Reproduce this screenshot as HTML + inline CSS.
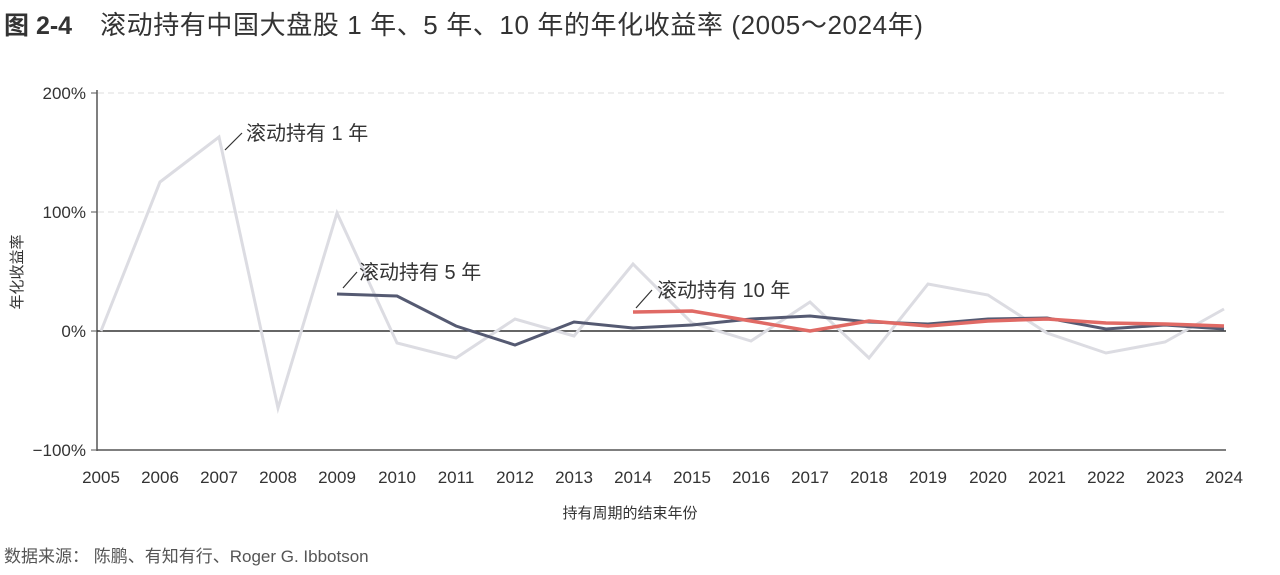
<!DOCTYPE html>
<html><head><meta charset="utf-8"><style>
body{margin:0;width:1280px;height:570px;background:#fff;overflow:hidden;font-family:"Liberation Sans","Noto Sans CJK SC",sans-serif;}
</style></head><body>
<svg width="1280" height="570" xmlns="http://www.w3.org/2000/svg" style="font-family:'Liberation Sans','Noto Sans CJK SC',sans-serif">
<text x="4" y="34" font-size="25" fill="#333" font-weight="bold">图 2-4</text>
<text x="100" y="34" font-size="26" fill="#333" letter-spacing="0.6">滚动持有中国大盘股 1 年、5 年、10 年的年化收益率 (2005～2024年)</text>
<g stroke="#ddd" stroke-dasharray="6,4" stroke-width="1">
<line x1="98" y1="93" x2="1226" y2="93"/><line x1="98" y1="212" x2="1226" y2="212"/>
</g>
<line x1="97" y1="90" x2="97" y2="451" stroke="#555" stroke-width="1.5"/>
<line x1="97" y1="450" x2="1226" y2="450" stroke="#555" stroke-width="1.5"/>
<line x1="97" y1="331" x2="1226" y2="331" stroke="#333" stroke-width="1.5"/>
<g stroke="#555"><line x1="91" y1="93" x2="97" y2="93"/><line x1="91" y1="212" x2="97" y2="212"/><line x1="91" y1="331" x2="97" y2="331"/><line x1="91" y1="450" x2="97" y2="450"/></g>
<g font-size="17" fill="#333" text-anchor="end">
<text x="86" y="99">200%</text><text x="86" y="218">100%</text><text x="86" y="337">0%</text><text x="86" y="456">−100%</text>
</g>
<g font-size="17" fill="#333" text-anchor="middle">
<text x="101" y="483">2005</text><text x="160" y="483">2006</text><text x="219" y="483">2007</text><text x="278" y="483">2008</text><text x="337" y="483">2009</text><text x="397" y="483">2010</text><text x="456" y="483">2011</text><text x="515" y="483">2012</text><text x="574" y="483">2013</text><text x="633" y="483">2014</text><text x="692" y="483">2015</text><text x="751" y="483">2016</text><text x="810" y="483">2017</text><text x="869" y="483">2018</text><text x="928" y="483">2019</text><text x="988" y="483">2020</text><text x="1047" y="483">2021</text><text x="1106" y="483">2022</text><text x="1165" y="483">2023</text><text x="1224" y="483">2024</text>
<text x="630" y="518" font-size="15">持有周期的结束年份</text>
</g>
<text transform="translate(22,272) rotate(-90)" font-size="15" fill="#333" text-anchor="middle">年化收益率</text>
<polyline fill="none" stroke="#dcdce2" stroke-width="3" points="101,331 160,182 219,137 278,408 337,213 397,343 456,358 515,319 574,336 633,264 692,323 751,341 810,302 869,358 928,284 988,295 1047,333 1106,353 1165,342 1224,309"/>
<polyline fill="none" stroke="#555a72" stroke-width="3" points="337,294 397,296 456,326 515,345 574,322 633,328 692,325 751,319 810,316 869,322 928,324 988,319 1047,318 1106,329 1165,325 1224,329"/>
<polyline fill="none" stroke="#e06a65" stroke-width="3.5" points="633,312 692,311 751,321 810,331 869,321 928,326 988,321 1047,319 1106,323 1165,324 1224,326"/>
<g stroke="#333" stroke-width="1.2"><line x1="225" y1="150" x2="242" y2="133"/><line x1="343" y1="288" x2="357" y2="272"/><line x1="636" y1="308" x2="652" y2="290"/></g>
<g font-size="20" fill="#333">
<text x="246" y="140">滚动持有 1 年</text>
<text x="359" y="279">滚动持有 5 年</text>
<text x="657" y="297">滚动持有 10 年</text>
</g>
<text x="4" y="562" font-size="17" fill="#555">数据来源： 陈鹏、有知有行、Roger G. Ibbotson</text>
</svg>
</body></html>
